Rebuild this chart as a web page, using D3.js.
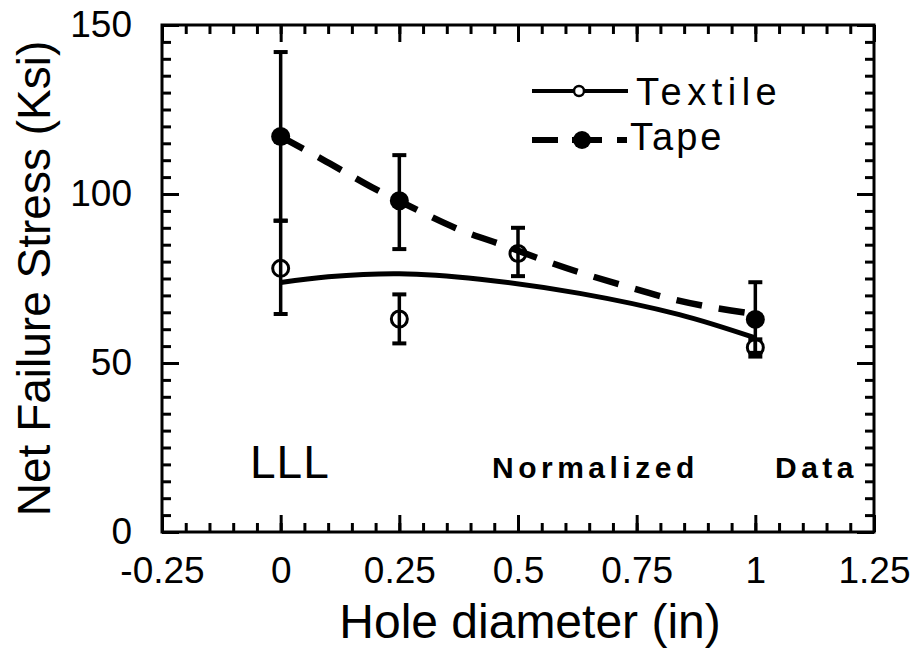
<!DOCTYPE html>
<html>
<head>
<meta charset="utf-8">
<script src="https://cdn.jsdelivr.net/npm/d3@7"></script>
<style>
  body { margin: 0; background: #fff; }
  text { font-family: "Liberation Sans", Arial, sans-serif; fill: #000; }
</style>
</head>
<body>
<script>
// values
const xTicks = [-0.25, 0, 0.25, 0.5, 0.75, 1, 1.25];
const yTicks = [0, 50, 100, 150];

const textileX = [0, 0.25, 0.5, 1];
const textileY = [78, 63, 82.4, 54.6];
const textileLo = [64.5, 55.8, 75.7, 51.9];
const textileHi = [92.1, 70.3, 90, 57];

const tapeX = [0, 0.25, 1];
const tapeY = [117, 98, 62.9];
const tapeLo = [92.1, 83.7, 53];
const tapeHi = [142, 111.5, 73.9];

// fitted curves
const textileFitX = [0, 0.1, 0.25, 0.42, 0.63, 0.84, 1];
const textileFitY = [73.8, 75.5, 76.4, 74.8, 70.6, 64.3, 57.4];
const tapeFitX = [0, 0.106, 0.2, 0.25, 0.374, 0.462, 0.553, 0.642, 0.732, 0.824, 0.915, 1];
const tapeFitY = [117, 108.9, 101.2, 98, 89.1, 85.4, 80.3, 76.2, 72.5, 68.7, 66.2, 64.5];

const margin = {top: 25, right: 43, bottom: 121, left: 162};
const W = 917, H = 653;
const w = W - margin.left - margin.right;
const h = H - margin.top - margin.bottom;

const svg = d3.select("body").append("svg")
	.attr("width", W)
	.attr("height", H);

const g = svg.append("g")
	.attr("transform", `translate(${margin.left},${margin.top})`);

const x = d3.scaleLinear().domain([-0.25, 1.25]).range([0, w]);
const y = d3.scaleLinear().domain([0, 150]).range([h, 0]);

// axes: ticks point inward on all four sides
function styleAxis(sel, fontSize) {
	sel.select(".domain").remove();
	sel.selectAll(".tick line").attr("stroke", "#000").attr("stroke-width", 3);
	sel.selectAll(".tick text")
		.style("font-size", fontSize + "px")
		.style("font-family", "'Liberation Sans', Arial, sans-serif")
		.attr("fill", "#000");
}

const minorX = x.ticks(30), minorY = y.ticks(30);

g.append("g").attr("class", "minor").attr("transform", `translate(0,${h})`)
	.call(d3.axisBottom(x).tickValues(minorX).tickSize(-9).tickFormat(""))
	.call(s => styleAxis(s, 0));
g.append("g").attr("class", "minor")
	.call(d3.axisTop(x).tickValues(minorX).tickSize(-9).tickFormat(""))
	.call(s => styleAxis(s, 0));
g.append("g").attr("class", "minor")
	.call(d3.axisLeft(y).tickValues(minorY).tickSize(-9).tickFormat(""))
	.call(s => styleAxis(s, 0));
g.append("g").attr("class", "minor").attr("transform", `translate(${w},0)`)
	.call(d3.axisRight(y).tickValues(minorY).tickSize(-9).tickFormat(""))
	.call(s => styleAxis(s, 0));

g.append("g").attr("transform", `translate(0,${h})`)
	.call(d3.axisBottom(x).tickValues(xTicks).tickSize(-17).tickPadding(25).tickFormat(d => String(d)))
	.call(s => styleAxis(s, 37));
g.append("g").call(d3.axisTop(x).tickValues(xTicks).tickSize(-17).tickFormat(""))
	.call(s => styleAxis(s, 0));
g.append("g").call(d3.axisLeft(y).tickValues(yTicks).tickSize(-17).tickPadding(30).tickFormat(d => String(d)))
	.call(s => styleAxis(s, 37));
g.append("g").attr("transform", `translate(${w},0)`)
	.call(d3.axisRight(y).tickValues(yTicks).tickSize(-17).tickFormat(""))
	.call(s => styleAxis(s, 0));

g.append("rect")
	.attr("width", w).attr("height", h)
	.attr("fill", "none").attr("stroke", "#000").attr("stroke-width", 3);

// fitted lines
const textileFit = textileFitX.map((d, i) => [d, textileFitY[i]]);
const tapeFit = tapeFitX.map((d, i) => [d, tapeFitY[i]]);

g.append("path")
	.attr("d", d3.line().x(d => x(d[0])).y(d => y(d[1])).curve(d3.curveCatmullRom)(textileFit))
	.attr("fill", "none").attr("stroke", "#000").attr("stroke-width", 5);

g.append("path")
	.attr("d", d3.line().x(d => x(d[0])).y(d => y(d[1])).curve(d3.curveBasis)(tapeFit))
	.attr("fill", "none").attr("stroke", "#000").attr("stroke-width", 6.5)
	.attr("stroke-dasharray", "26 17");

// error bars
function errorBars(xs, lo, hi) {
	const data = xs.map((d, i) => ({x: d, lo: lo[i], hi: hi[i]}));
	const eb = g.append("g");
	eb.selectAll(".bar").data(data).enter().append("line")
		.attr("x1", d => x(d.x)).attr("x2", d => x(d.x))
		.attr("y1", d => y(d.lo)).attr("y2", d => y(d.hi))
		.attr("stroke", "#000").attr("stroke-width", 3.5);
	["lo", "hi"].forEach(k => {
		eb.selectAll(".cap-" + k).data(data).enter().append("line")
			.attr("x1", d => x(d.x) - 7).attr("x2", d => x(d.x) + 7)
			.attr("y1", d => y(d[k])).attr("y2", d => y(d[k]))
			.attr("stroke", "#000").attr("stroke-width", 4);
	});
}
errorBars(textileX, textileLo, textileHi);
errorBars(tapeX, tapeLo, tapeHi);

// markers
g.selectAll(".textile").data(textileX).enter().append("circle")
	.attr("cx", d => x(d)).attr("cy", (d, i) => y(textileY[i]))
	.attr("r", 8).attr("fill", "none").attr("stroke", "#000").attr("stroke-width", 3);

g.selectAll(".tape").data(tapeX).enter().append("circle")
	.attr("cx", d => x(d)).attr("cy", (d, i) => y(tapeY[i]))
	.attr("r", 9.5).attr("fill", "#000");

// legend
svg.append("line").attr("x1", 532).attr("x2", 628).attr("y1", 91).attr("y2", 91)
	.attr("stroke", "#000").attr("stroke-width", 4);
svg.append("circle").attr("cx", 579).attr("cy", 91).attr("r", 5)
	.attr("fill", "#fff").attr("stroke", "#000").attr("stroke-width", 2.5);
svg.append("text").attr("x", 636).attr("y", 105).text("Textile")
	.style("font-size", "38px").style("letter-spacing", "5.5px");

svg.append("line").attr("x1", 532).attr("x2", 627).attr("y1", 140).attr("y2", 140)
	.attr("stroke", "#000").attr("stroke-width", 6)
	.attr("stroke-dasharray", "26 14 30 15 10");
svg.append("circle").attr("cx", 582).attr("cy", 140).attr("r", 9).attr("fill", "#000");
svg.append("text").attr("x", 630).attr("y", 150).text("Tape")
	.style("font-size", "38px").style("letter-spacing", "3px");

// annotations
svg.append("text").attr("x", 250).attr("y", 478).text("LLL")
	.style("font-size", "46px").style("letter-spacing", "1px");
svg.append("text").attr("x", 492).attr("y", 478).text("Normalized")
	.style("font-size", "30px").style("font-weight", "bold").style("letter-spacing", "4.5px");
svg.append("text").attr("x", 775).attr("y", 478).text("Data")
	.style("font-size", "30px").style("font-weight", "bold").style("letter-spacing", "4.5px");

// axis titles
svg.append("text")
	.attr("x", 530).attr("y", 638)
	.attr("text-anchor", "middle")
	.style("font-size", "48px")
	.text("Hole diameter (in)");

svg.append("text")
	.attr("transform", `translate(50,${margin.top + h / 2}) rotate(-90)`)
	.attr("text-anchor", "middle")
	.style("font-size", "46px")
	.text("Net Failure Stress (Ksi)");
</script>
</body>
</html>
